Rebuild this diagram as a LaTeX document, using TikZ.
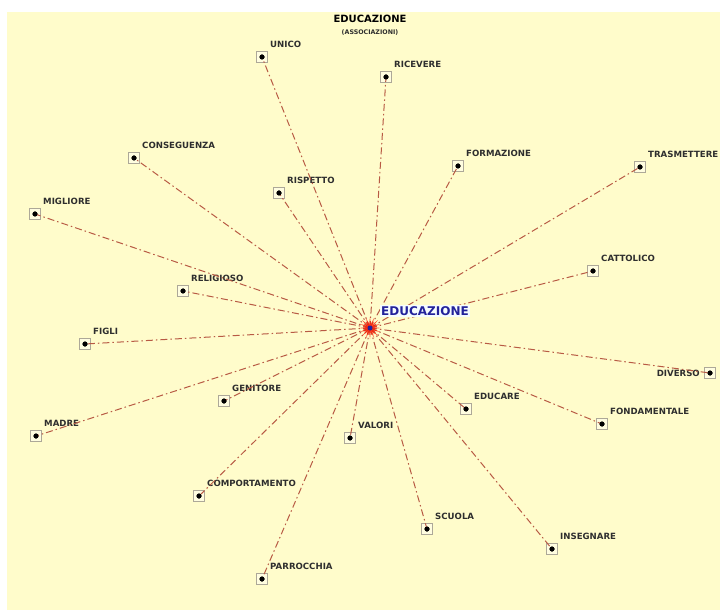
\documentclass[tikz,border=0pt]{standalone}
\usepackage{fontspec}
\setmainfont{DejaVu Sans}
\usetikzlibrary{shapes.geometric}
\definecolor{paper}{HTML}{FFFCCB}
\definecolor{linkred}{HTML}{B85A44}
\definecolor{labelgray}{HTML}{2E2E2E}
\definecolor{hubblue}{HTML}{22229A}
\definecolor{boxgray}{HTML}{ADA898}
\tikzset{
  x=1pt, y=-1pt,
  link/.style={draw=linkred, line width=1pt, dash pattern=on 7pt off 3pt on 1.5pt off 3pt},
  termbox/.style={draw=boxgray, fill=paper!60!white, minimum size=11pt, inner sep=0pt, line width=0.6pt},
  termdot/.style={circle, fill=black, minimum size=5pt, inner sep=0pt},
  termlabel/.style={font=\fontsize{8.6}{10}\selectfont\bfseries, text=labelgray, inner sep=0pt, anchor=west},
}
\newcommand{\term}[4]{%
  \node[termbox] (#1b) at (#2,#3) {};
  \node[termdot] (#1) at (#2,#3) {};
  \node[termlabel] (#1l) at (#2+8,#3-13) {#4};
}
\begin{document}
\begin{tikzpicture}
% canvas
\fill[white] (0,0) rectangle (720,612);
\fill[paper] (7,12) rectangle (720,610);
\useasboundingbox (0,0) rectangle (720,612);

% title
\node[font=\fontsize{10}{11}\selectfont\bfseries, inner sep=0pt] (title) at (370,19) {EDUCAZIONE};
\node[font=\fontsize{6.3}{7}\selectfont\bfseries, text=labelgray, inner sep=0pt] (subtitle) at (370,33) {(ASSOCIAZIONI)};

% hub
\coordinate (hub) at (370,328);

% terms
\term{unico}{262}{57}{UNICO}
\term{ricevere}{386}{77}{RICEVERE}
\term{conseguenza}{134}{158}{CONSEGUENZA}
\term{rispetto}{279}{193}{RISPETTO}
\term{formazione}{458}{166}{FORMAZIONE}
\term{trasmettere}{640}{167}{TRASMETTERE}
\term{migliore}{35}{214}{MIGLIORE}
\term{cattolico}{593}{271}{CATTOLICO}
\term{religioso}{183}{291}{RELIGIOSO}
\term{figli}{85}{344}{FIGLI}
\term{genitore}{224}{401}{GENITORE}
\term{educare}{466}{409}{EDUCARE}
\term{fondamentale}{602}{424}{FONDAMENTALE}
\term{madre}{36}{436}{MADRE}
\term{valori}{350}{438}{VALORI}
\term{comportamento}{199}{496}{COMPORTAMENTO}
\term{scuola}{427}{529}{SCUOLA}
\term{insegnare}{552}{549}{INSEGNARE}
\term{parrocchia}{262}{579}{PARROCCHIA}
% DIVERSO carries its label on the left
\node[termbox] (diversob) at (710,373) {};
\node[termdot] (diverso) at (710,373) {};
\node[termlabel, anchor=east] (diversol) at (700,373) {DIVERSO};

% links from the hub
\foreach \t in {unico,ricevere,conseguenza,rispetto,formazione,trasmettere,migliore,
  cattolico,religioso,figli,genitore,educare,fondamentale,madre,valori,
  comportamento,scuola,insegnare,parrocchia,diverso}
  \draw[link] (hub) -- (\t.center);
\foreach \t in {unico,ricevere,conseguenza,rispetto,formazione,trasmettere,migliore,
  cattolico,religioso,figli,genitore,educare,fondamentale,madre,valori,
  comportamento,scuola,insegnare,parrocchia,diverso}
  \node[termdot] at (\t) {};

% hub burst
\node[star, star points=16, star point ratio=2.6, fill=red!80!orange, minimum size=22pt, inner sep=0pt, opacity=0.75] (burst) at (hub) {};
\node[circle, fill=hubblue, minimum size=5pt, inner sep=0pt] (hubdot) at (hub) {};
\node[font=\fontsize{12}{13}\selectfont\bfseries, text=hubblue, fill=white!80!cyan!20, inner sep=1pt, anchor=west] (hubl) at (380,311) {EDUCAZIONE};
\end{tikzpicture}
\end{document}
